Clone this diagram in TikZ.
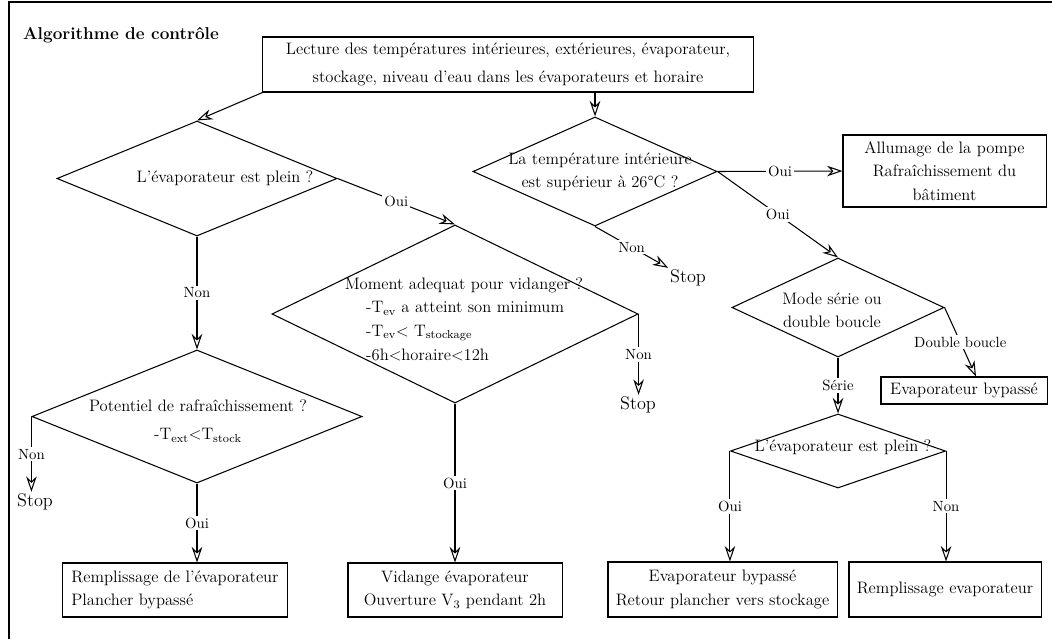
\documentclass[tikz,border=0pt]{standalone}
\usepackage{fontspec}
\usetikzlibrary{arrows.meta,shapes.geometric}

\begin{document}
\begin{tikzpicture}[x=0.025cm,y=-0.025cm,line width=0.75pt,
  font=\fontsize{11.8}{16.5}\selectfont,
  >={Stealth[open,length=11pt,width=7.5pt]},
  box/.style={draw,rectangle,inner sep=0pt,align=center},
  dia/.style={draw,diamond,inner sep=0pt},
  lbl/.style={fill=white,inner sep=1.5pt,font=\fontsize{10.5}{12}\selectfont},
  stopnode/.style={inner sep=1pt,font=\fontsize{13}{15}\selectfont}]
  \useasboundingbox (0,0) rectangle (1052,639);
  \draw[line width=1.5pt] (1052,2) -| (9,639);

  \node[font=\fontsize{12.2}{14}\selectfont\bfseries] (title) at (121,35) {Algorithme de contrôle};
  \node[box,minimum width=12.25cm,minimum height=1.375cm] (lecture) at (508,64.5)
    {Lecture des températures intérieures, extérieures, évaporateur,\\[3pt]
     stockage, niveau d'eau dans les évaporateurs et horaire};

  \node[dia,minimum width=7cm,minimum height=2.875cm] (plein) at (197,178.5) {};
  \node (pleintxt) at (225,178) {L'évaporateur est plein ?};
  \node[dia,minimum width=6.1cm,minimum height=2.725cm] (temp) at (595,171.5) {};
  \node[align=center] (temptxt) at (600,172) {La température intérieure\\ est supérieur à 26°C ?};
  \node[dia,minimum width=9.15cm,minimum height=4.45cm] (moment) at (455,314) {};
  \node (momenttxt) at (464,285) {Moment adequat pour vidanger ?};
  \node[align=left,anchor=west] (crit) at (361,331)
    {-T\textsubscript{ev} a atteint son minimum\\[0.5pt]
     -T\textsubscript{ev}< T\textsubscript{stockage}\\[0.5pt]
     -6h<horaire<12h};
  \node[dia,minimum width=8.25cm,minimum height=3.325cm] (potentiel) at (197,416.5) {};
  \node[align=center] (pottxt) at (198,421)
    {Potentiel de rafraîchissement ?\\[4pt] -T\textsubscript{ext}<T\textsubscript{stock}};
  \node[dia,minimum width=5.3cm,minimum height=2.475cm] (mode) at (838,307.5) {};
  \node[align=center] (modetxt) at (832,310) {Mode série ou\\ double boucle};
  \node[dia,minimum width=5.375cm,minimum height=1.85cm] (plein2) at (838,451) {};
  \node (plein2txt) at (843,447) {L'évaporateur est plein ?};

  \node[box,minimum width=5.075cm,minimum height=1.8cm] (pompe) at (944.5,171)
    {Allumage de la pompe\\ Rafraîchissement du\\ bâtiment};
  \node[box,minimum width=4.15cm,minimum height=0.675cm] (bypass) at (964,390.5) {Evaporateur bypassé};
  \node[box,align=left,minimum width=5.6cm,minimum height=1.35cm] (remplissage) at (175,590)
    {Remplissage de l'évaporateur\\ Plancher bypassé};
  \node[box,minimum width=5.35cm,minimum height=1.35cm] (vidange) at (455,590)
    {Vidange évaporateur\\ Ouverture V\textsubscript{3} pendant 2h};
  \node[box,minimum width=5.725cm,minimum height=1.375cm] (retour) at (722.5,589.5)
    {Evaporateur bypassé\\ Retour plancher vers stockage};
  \node[box,minimum width=4.8cm,minimum height=1.375cm] (rempl2) at (945,589.5) {Remplissage evaporateur};

  \node[stopnode] (stopA) at (35,502) {Stop};
  \node[stopnode] (stopB) at (638,405) {Stop};
  \node[stopnode] (stopC) at (688,278) {Stop};

  \draw[->] (lecture.south west) -- (plein.north);
  \draw[->] (temp.north |- lecture.south) -- (temp.north);
  \draw[->] (plein.east) -- node[lbl] {Oui} (moment.north);
  \draw[->] (plein.south) -- node[lbl] {Non} (potentiel.north);
  \draw[->] (potentiel.west) -- node[lbl] {Non} (potentiel.west |- stopA.north);
  \draw[->] (potentiel.south) -- node[lbl] {Oui} (potentiel.south |- remplissage.north);
  \draw[->] (moment.east) -- node[lbl] {Non} (moment.east |- stopB.north);
  \draw[->] (moment.south) -- node[lbl] {Oui} (vidange.north);
  \draw[->] (temp.east) -- node[lbl] {Oui} (pompe.west);
  \draw[->] (temp.east) -- node[lbl] {Oui} (mode.north);
  \draw[->] (temp.south) -- node[lbl] {Non} (stopC.north west);
  \draw[->] (mode.east) -- node[lbl] {Double boucle} ([xshift=0.3cm]bypass.north);
  \draw[->] (mode.south) -- node[lbl] {Série} (plein2.north);
  \draw[->] (plein2.west) -- node[lbl] {Oui} (plein2.west |- retour.north);
  \draw[->] (plein2.east) -- node[lbl] {Non} (plein2.east |- rempl2.north);
\end{tikzpicture}
\end{document}
